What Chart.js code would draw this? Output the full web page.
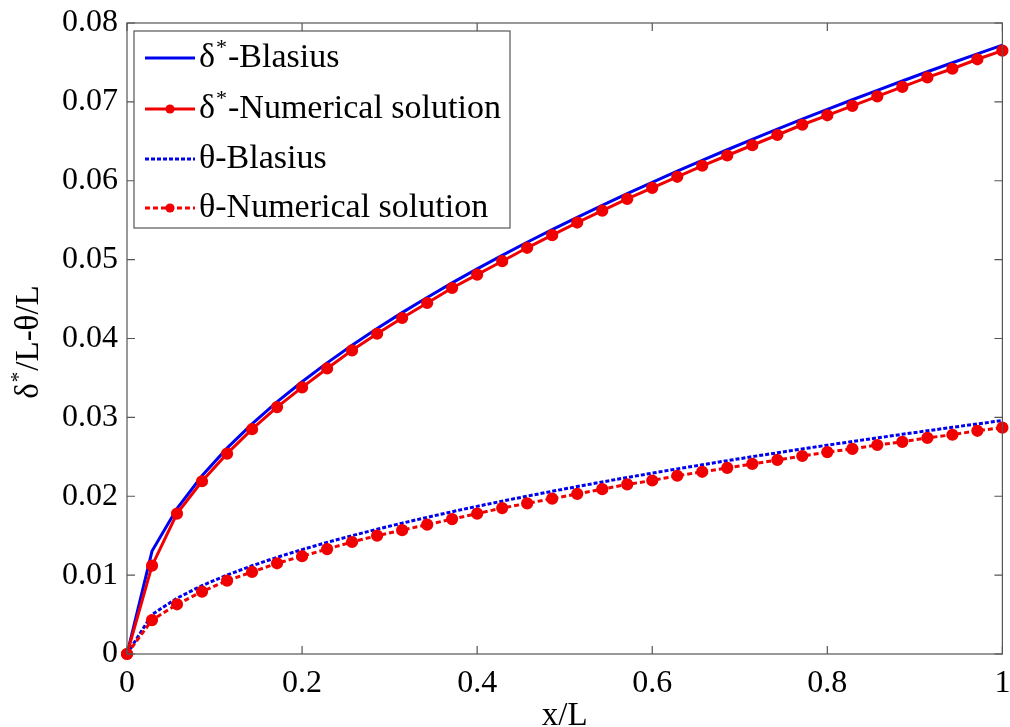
<!DOCTYPE html>
<html lang="en">
<head>
    <meta charset="UTF-8">
    <title>Displacement and momentum thickness</title>
    <style>
        body {
            margin: 0;
            background-color: #fff;
        }
        canvas {
            display: block;
        }
    </style>
</head>
<body>
    <canvas id="thicknessChart" width="1010" height="727"></canvas>
    <script src="https://cdn.jsdelivr.net/npm/chart.js"></script>
    <script>
        // x/L stations
        const xValues = [0, 0.0286, 0.0571, 0.0857, 0.1143, 0.1429, 0.1714, 0.2, 0.2286, 0.2571, 0.2857,
            0.3143, 0.3429, 0.3714, 0.4, 0.4286, 0.4571, 0.4857, 0.5143, 0.5429, 0.5714, 0.6, 0.6286,
            0.6571, 0.6857, 0.7143, 0.7429, 0.7714, 0.8, 0.8286, 0.8571, 0.8857, 0.9143, 0.9429, 0.9714, 1];

        const deltaBlasius = [0, 0.01305, 0.01845, 0.0226, 0.0261, 0.02918, 0.03196, 0.03452, 0.03691, 0.03915,
            0.04126, 0.04328, 0.0452, 0.04705, 0.04883, 0.05054, 0.0522, 0.0538, 0.05536, 0.05688, 0.05836,
            0.0598, 0.06121, 0.06258, 0.06393, 0.06525, 0.06654, 0.06781, 0.06905, 0.07027, 0.07147, 0.07265,
            0.07382, 0.07496, 0.07609, 0.0772];

        const deltaNumerical = [0, 0.0112, 0.0178, 0.0219, 0.0254, 0.0285, 0.0313, 0.0338, 0.0362, 0.0385,
            0.0406, 0.0426, 0.0445, 0.0464, 0.0481, 0.0498, 0.0515, 0.0531, 0.0547, 0.0562, 0.0577, 0.0591,
            0.0605, 0.0619, 0.0632, 0.0645, 0.0658, 0.0671, 0.0683, 0.0695, 0.0707, 0.0719, 0.0731, 0.0742,
            0.0754, 0.0765];

        const thetaBlasius = [0, 0.005, 0.00708, 0.00867, 0.01001, 0.01119, 0.01226, 0.01324, 0.01415, 0.01501,
            0.01582, 0.01659, 0.01733, 0.01804, 0.01872, 0.01938, 0.02001, 0.02063, 0.02123, 0.02181, 0.02238,
            0.02293, 0.02347, 0.02399, 0.02451, 0.02502, 0.02551, 0.026, 0.02648, 0.02694, 0.0274, 0.02786,
            0.0283, 0.02874, 0.02917, 0.0296];

        const thetaNumerical = [0, 0.0043, 0.0063, 0.0079, 0.0093, 0.0104, 0.0115, 0.0124, 0.0133, 0.0142,
            0.015, 0.0157, 0.0164, 0.0171, 0.0178, 0.0185, 0.0191, 0.0197, 0.0203, 0.0209, 0.0215, 0.022,
            0.0226, 0.0231, 0.0236, 0.0241, 0.0246, 0.0251, 0.0256, 0.026, 0.0265, 0.0269, 0.0274, 0.0278,
            0.0283, 0.0287];

        const seriesLabels = ['δ*-Blasius', 'δ*-Numerical solution', 'θ-Blasius', 'θ-Numerical solution'];
        const xTitle = 'x/L';
        const yTitle = 'δ*/L-θ/L';

        const BLUE = 'rgb(0, 0, 240)';
        const RED = 'rgb(240, 0, 0)';
        const FONT = '"Liberation Serif", "Times New Roman", serif';

        function toPoints(ys) {
            return xValues.map((x, i) => ({ x: x, y: ys[i] }));
        }

        // draws text, raising the '*' as a superscript
        function drawSupText(ctx, text, x, y, size, align) {
            const parts = text.split('*');
            ctx.font = size + 'px ' + FONT;
            const w0 = ctx.measureText(parts[0]).width;
            const w2 = parts.length > 1 ? ctx.measureText(parts[1]).width : 0;
            ctx.font = Math.round(size * 0.65) + 'px ' + FONT;
            const w1 = parts.length > 1 ? ctx.measureText('*').width + 2 : 0;
            let start = align === 'center' ? x - (w0 + w1 + w2) / 2 : x;
            ctx.textAlign = 'left';
            ctx.textBaseline = 'middle';
            ctx.font = size + 'px ' + FONT;
            ctx.fillText(parts[0], start, y);
            if (parts.length > 1) {
                ctx.font = Math.round(size * 0.65) + 'px ' + FONT;
                ctx.fillText('*', start + w0 + 1, y - size * 0.3);
                ctx.font = size + 'px ' + FONT;
                ctx.fillText(parts[1], start + w0 + w1, y);
            }
        }

        const framePlugin = {
            id: 'frame',
            afterDraw(chart) {
                const ctx = chart.ctx;
                const a = chart.chartArea;
                const xs = chart.scales.x;
                const ys = chart.scales.y;
                ctx.save();
                ctx.strokeStyle = '#555';
                ctx.lineWidth = 1.2;
                ctx.strokeRect(a.left, a.top, a.right - a.left, a.bottom - a.top);

                // inward ticks on all four sides
                ctx.beginPath();
                xs.ticks.forEach(t => {
                    const px = xs.getPixelForValue(t.value);
                    ctx.moveTo(px, a.bottom);
                    ctx.lineTo(px, a.bottom - 8);
                    ctx.moveTo(px, a.top);
                    ctx.lineTo(px, a.top + 8);
                });
                ys.ticks.forEach(t => {
                    const py = ys.getPixelForValue(t.value);
                    ctx.moveTo(a.left, py);
                    ctx.lineTo(a.left + 8, py);
                    ctx.moveTo(a.right, py);
                    ctx.lineTo(a.right - 8, py);
                });
                ctx.stroke();

                // axis titles
                ctx.fillStyle = '#000';
                drawSupText(ctx, xTitle, (a.left + a.right) / 2, 716, 33, 'center');
                ctx.translate(29, 342);
                ctx.rotate(-Math.PI / 2);
                drawSupText(ctx, yTitle, 0, 0, 33, 'center');
                ctx.restore();

                // legend
                ctx.save();
                const boxL = 134, boxT = 31, boxR = 510, boxB = 228;
                ctx.fillStyle = '#fff';
                ctx.fillRect(boxL, boxT, boxR - boxL, boxB - boxT);
                ctx.strokeStyle = '#555';
                ctx.lineWidth = 1.2;
                ctx.strokeRect(boxL, boxT, boxR - boxL, boxB - boxT);
                const rowY = [58, 109, 159, 208];
                chart.data.datasets.forEach((ds, i) => {
                    const yy = rowY[i];
                    ctx.strokeStyle = ds.borderColor;
                    ctx.lineWidth = ds.borderWidth;
                    ctx.setLineDash(ds.borderDash || []);
                    ctx.beginPath();
                    ctx.moveTo(145, yy);
                    ctx.lineTo(195, yy);
                    ctx.stroke();
                    ctx.setLineDash([]);
                    if (ds.pointRadius > 0) {
                        ctx.fillStyle = ds.pointBackgroundColor;
                        ctx.beginPath();
                        ctx.arc(170, yy, ds.pointRadius, 0, 2 * Math.PI);
                        ctx.fill();
                    }
                    ctx.fillStyle = '#000';
                    drawSupText(ctx, ds.label, 199, yy, 34, 'left');
                });
                ctx.restore();
            }
        };

        const canvas = document.getElementById('thicknessChart');
        const chart = new Chart(canvas.getContext('2d'), {
            type: 'line',
            data: {
                datasets: [{
                    label: seriesLabels[0],
                    data: toPoints(deltaBlasius),
                    borderColor: BLUE,
                    borderWidth: 3,
                    pointRadius: 0,
                    order: 2
                }, {
                    label: seriesLabels[1],
                    data: toPoints(deltaNumerical),
                    borderColor: RED,
                    backgroundColor: RED,
                    pointBackgroundColor: RED,
                    pointBorderColor: RED,
                    borderWidth: 3,
                    pointRadius: 4.6,
                    order: 1
                }, {
                    label: seriesLabels[2],
                    data: toPoints(thetaBlasius),
                    borderColor: BLUE,
                    borderWidth: 3,
                    borderDash: [4, 2],
                    pointRadius: 0,
                    order: 4
                }, {
                    label: seriesLabels[3],
                    data: toPoints(thetaNumerical),
                    borderColor: RED,
                    backgroundColor: RED,
                    pointBackgroundColor: RED,
                    pointBorderColor: RED,
                    borderWidth: 3,
                    borderDash: [5, 3],
                    pointRadius: 4.6,
                    order: 3
                }]
            },
            options: {
                responsive: false,
                animation: false,
                devicePixelRatio: 1,
                layout: {
                    padding: { left: 0, top: 23, right: 4, bottom: 0 }
                },
                elements: {
                    line: { tension: 0 },
                    point: { borderWidth: 0 }
                },
                datasets: {
                    line: { clip: false }
                },
                plugins: {
                    legend: { display: false },
                    tooltip: { enabled: false }
                },
                scales: {
                    x: {
                        type: 'linear',
                        min: 0,
                        max: 1,
                        afterFit(scale) {
                            scale.height = 73;
                            scale.paddingLeft = 0;
                            scale.paddingRight = 0;
                        },
                        grid: { display: false, drawTicks: false },
                        border: { display: false },
                        ticks: {
                            stepSize: 0.2,
                            padding: 10,
                            color: '#000',
                            font: { family: FONT, size: 32 },
                            callback: v => +v.toFixed(2)
                        }
                    },
                    y: {
                        min: 0,
                        max: 0.08,
                        afterFit(scale) {
                            scale.width = 127;
                            scale.paddingTop = 0;
                            scale.paddingBottom = 0;
                        },
                        grid: { display: false, drawTicks: false },
                        border: { display: false },
                        ticks: {
                            stepSize: 0.01,
                            padding: 9,
                            color: '#000',
                            font: { family: FONT, size: 32 },
                            callback: v => +v.toFixed(3)
                        }
                    }
                }
            },
            plugins: [framePlugin]
        });
    </script>
</body>
</html>
